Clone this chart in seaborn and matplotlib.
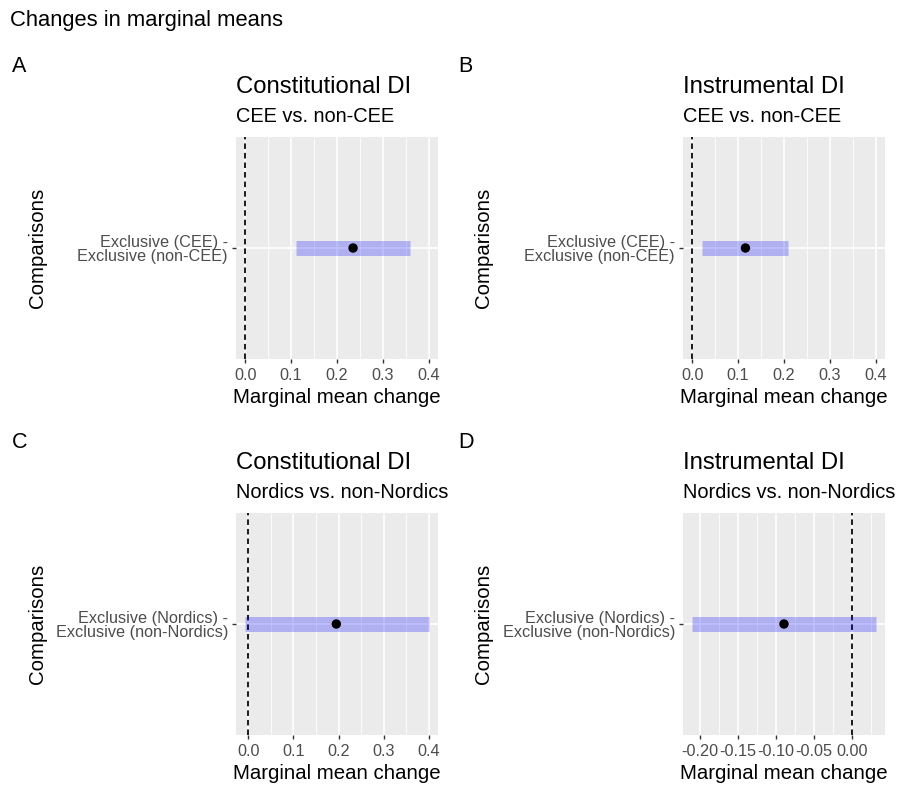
import numpy as np
import pandas as pd
import matplotlib
matplotlib.use("Agg")
import matplotlib.pyplot as plt
import seaborn as sns

# data
panel_tags = ["A", "B", "C", "D"]
titles = ["Constitutional DI", "Instrumental DI", "Constitutional DI", "Instrumental DI"]
subtitles = ["CEE vs. non-CEE", "CEE vs. non-CEE",
             "Nordics vs. non-Nordics", "Nordics vs. non-Nordics"]
comparisons = ["Exclusive (CEE) -\nExclusive (non-CEE)",
               "Exclusive (CEE) -\nExclusive (non-CEE)",
               "Exclusive (Nordics) -\nExclusive (non-Nordics)",
               "Exclusive (Nordics) -\nExclusive (non-Nordics)"]
estimates = [0.235, 0.116, 0.195, -0.0895]
lower = [0.111, 0.021, -0.0066, -0.2105]
upper = [0.358, 0.208, 0.399, 0.0316]
x_limits = [(-0.02, 0.42), (-0.02, 0.42), (-0.027, 0.42), (-0.2226, 0.0437)]
major_ticks = [[0, 0.1, 0.2, 0.3, 0.4]] * 3 + [[-0.2, -0.15, -0.1, -0.05, 0]]
tick_labels = [["0.0", "0.1", "0.2", "0.3", "0.4"]] * 3 + \
              [["-0.20", "-0.15", "-0.10", "-0.05", "0.00"]]
minor_ticks = [[0.05, 0.15, 0.25, 0.35]] * 3 + [[-0.175, -0.125, -0.075, -0.025, 0.025]]

sns.set_theme(style="darkgrid", rc={"axes.facecolor": "#EBEBEB",
                                    "axes.unicode_minus": False,
                                    "text.color": "black",
                                    "axes.labelcolor": "black"})
plt.rcParams['font.family'] = ['Liberation Sans', 'DejaVu Sans']

W, H = 901, 785
fig = plt.figure(figsize=(W / 100, H / 100), dpi=100)
fig.patch.set_facecolor("white")

fig.text(10 / W, 1 - 26 / H, "Changes in marginal means", fontsize=15.8,
         va="baseline", ha="left", color="black")

lefts = [236, 683, 236, 683]
tops = [137, 137, 513, 513]
tag_x = [12, 458, 12, 458]
pw, ph = 202, 222

for i in range(4):
    l, t = lefts[i], tops[i]
    off = t - 137
    ax = fig.add_axes([l / W, 1 - (t + ph) / H, pw / W, ph / H])
    ax.set_axisbelow(True)

    df = pd.DataFrame({"comparison": [comparisons[i]], "estimate": [estimates[i]],
                       "lower": [lower[i]], "upper": [upper[i]]})

    ax.axvline(0, color="black", lw=1.25, ls=(0, (3.2, 2.3)), zorder=2)
    ax.hlines(df["comparison"], df["lower"], df["upper"], color="blue",
              alpha=0.25, lw=10.8, capstyle="butt", zorder=3)
    sns.scatterplot(data=df, x="estimate", y="comparison", ax=ax, color="black",
                    s=46, edgecolor="none", zorder=4)

    ax.set_xlim(*x_limits[i])
    ax.set_ylim(-0.6, 0.6)
    ax.set_xticks(major_ticks[i])
    ax.set_xticklabels(tick_labels[i])
    ax.set_xticks(minor_ticks[i], minor=True)

    ax.grid(which="major", color="white", lw=1.2)
    ax.grid(which="minor", axis="x", color="white", lw=0.6)
    for s in ax.spines.values():
        s.set_visible(False)

    ax.tick_params(axis="both", which="major", length=2.9, width=1.0,
                   color="#333333", labelsize=11.7, labelcolor="#4D4D4D",
                   bottom=True, left=True)
    ax.tick_params(axis="x", which="major", pad=3.6)
    ax.tick_params(axis="y", which="major", pad=2.9)
    ax.tick_params(axis="x", which="minor", length=0)
    for lab in ax.get_yticklabels():
        lab.set_linespacing(0.95)
        lab.set_multialignment("right")

    ax.set_xlabel("")
    ax.set_ylabel("")
    fig.text((l + pw / 2) / W, 1 - (403 + off) / H, "Marginal mean change",
             fontsize=14.65, ha="center", va="baseline")
    fig.text((l - 199) / W, 1 - (t + ph / 2) / H, "Comparisons", fontsize=14.65,
             rotation=90, ha="center", va="center")

    fig.text(l / W, 1 - (93 + off) / H, titles[i], fontsize=17.2,
             ha="left", va="baseline")
    fig.text(l / W, 1 - (122 + off) / H, subtitles[i], fontsize=14.4,
             ha="left", va="baseline")
    fig.text(tag_x[i] / W, 1 - (72 + off) / H, panel_tags[i], fontsize=15.5,
             ha="left", va="baseline")

fig.savefig("out.png", dpi=100)
